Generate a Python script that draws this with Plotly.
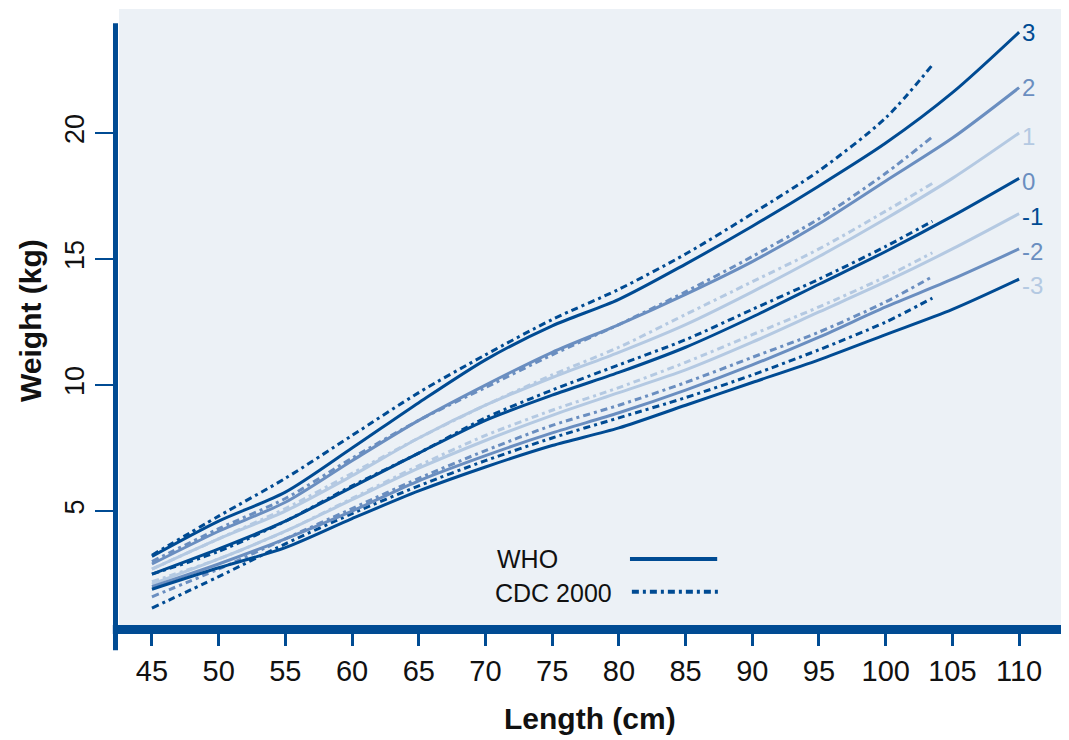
import plotly.graph_objects as go

# ---------------- data ----------------
who_length = [45, 50, 55, 60, 65, 70, 75, 80, 85, 90, 95, 100, 105, 110]
who_p3 = [3.2, 4.6, 5.75, 7.5, 9.3, 11.0, 12.35, 13.4, 14.8, 16.3, 17.9, 19.6, 21.6, 24.0]
who_p2 = [2.9, 4.2, 5.35, 7.0, 8.6, 10.0, 11.3, 12.4, 13.6, 14.9, 16.4, 18.1, 19.8, 21.8]
who_p1 = [2.7, 3.9, 5.0, 6.4, 7.9, 9.2, 10.3, 11.3, 12.4, 13.7, 15.1, 16.6, 18.2, 20.0]
who_0 = [2.5, 3.5, 4.6, 5.95, 7.3, 8.6, 9.6, 10.5, 11.5, 12.7, 14.0, 15.3, 16.7, 18.2]
who_m1 = [2.1, 3.1, 4.2, 5.45, 6.7, 7.8, 8.8, 9.7, 10.6, 11.7, 12.9, 14.1, 15.4, 16.8]
who_m2 = [2.0, 2.9, 3.9, 5.0, 6.2, 7.2, 8.1, 8.9, 9.8, 10.8, 11.9, 13.1, 14.2, 15.4]
who_m3 = [1.9, 2.75, 3.55, 4.7, 5.8, 6.75, 7.6, 8.3, 9.2, 10.1, 11.0, 12.0, 13.0, 14.2]

cdc_length = [45, 50, 55, 60, 65, 70, 75, 80, 85, 90, 95, 100, 103.5]
cdc_p3 = [3.25, 4.8, 6.3, 8.0, 9.7, 11.2, 12.6, 13.8, 15.2, 16.8, 18.5, 20.6, 22.7]
cdc_p2 = [3.0, 4.3, 5.5, 7.1, 8.6, 9.9, 11.2, 12.4, 13.7, 15.1, 16.6, 18.4, 19.85]
cdc_p1 = [2.7, 3.9, 5.1, 6.5, 7.9, 9.2, 10.4, 11.5, 12.8, 14.1, 15.4, 16.9, 18.0]
cdc_0 = [2.5, 3.4, 4.6, 6.0, 7.3, 8.7, 9.8, 10.8, 11.8, 13.0, 14.2, 15.5, 16.5]
cdc_m1 = [2.2, 3.1, 4.2, 5.5, 6.8, 8.0, 9.0, 9.9, 10.9, 12.0, 13.1, 14.3, 15.25]
cdc_m2 = [1.6, 2.7, 3.9, 5.1, 6.3, 7.4, 8.4, 9.2, 10.1, 11.1, 12.1, 13.3, 14.3]
cdc_m3 = [1.15, 2.4, 3.7, 4.9, 6.0, 7.0, 7.9, 8.7, 9.5, 10.4, 11.4, 12.5, 13.45]

z_labels = ["3", "2", "1", "0", "-1", "-2", "-3"]
x_ticks = [45, 50, 55, 60, 65, 70, 75, 80, 85, 90, 95, 100, 105, 110]
y_ticks = [5, 10, 15, 20]
legend_names = ["WHO", "CDC 2000"]
x_title = "Length (cm)"
y_title = "Weight (kg)"

# ---------------- style ----------------
DARK = "#004b93"
MED = "#6a8ec0"
LIGHT = "#b4c9e2"
BG = "#ecf1f6"
TXT = "#111111"
FONT = "Liberation Sans, Arial, sans-serif"
DASHDOT = "7px,4px,3px,4px"

line_colors = [DARK, MED, LIGHT, DARK, LIGHT, MED, DARK]
label_colors = [DARK, MED, LIGHT, MED, DARK, MED, LIGHT]
label_yshift = [0, 0, -3, -3, -3, -3, -6]

who_series = [who_p3, who_p2, who_p1, who_0, who_m1, who_m2, who_m3]
cdc_series = [cdc_p3, cdc_p2, cdc_p1, cdc_0, cdc_m1, cdc_m2, cdc_m3]

fig = go.Figure()

for name, ys, col in zip(z_labels, cdc_series, line_colors):
    fig.add_trace(go.Scatter(x=cdc_length, y=ys, mode="lines", name="CDC " + name,
                             line=dict(color=col, width=3, dash=DASHDOT, shape="spline", smoothing=0.8),
                             showlegend=False, hoverinfo="skip"))
for name, ys, col in zip(z_labels, who_series, line_colors):
    fig.add_trace(go.Scatter(x=who_length, y=ys, mode="lines", name="WHO " + name,
                             line=dict(color=col, width=3, shape="spline", smoothing=0.8),
                             showlegend=False, hoverinfo="skip"))

# end labels
for name, ys, col, dy in zip(z_labels, who_series, label_colors, label_yshift):
    fig.add_annotation(x=who_length[-1], y=ys[-1], text=name, showarrow=False,
                       xanchor="left", yanchor="middle", xshift=1, yshift=dy,
                       font=dict(family=FONT, size=24, color=col))

# legend (manual, text left of line)
fig.add_annotation(xref="paper", yref="paper", x=0.397, y=0.107, text=legend_names[0],
                   showarrow=False, xanchor="left", yanchor="middle",
                   font=dict(family=FONT, size=25, color=TXT))
fig.add_annotation(xref="paper", yref="paper", x=0.394, y=0.052, text=legend_names[1],
                   showarrow=False, xanchor="left", yanchor="middle",
                   font=dict(family=FONT, size=25, color=TXT))
fig.add_shape(type="line", xref="paper", yref="paper", x0=0.539, x1=0.631, y0=0.107, y1=0.107,
              line=dict(color=DARK, width=4))
fig.add_shape(type="line", xref="paper", yref="paper", x0=0.541, x1=0.632, y0=0.054, y1=0.054,
              line=dict(color=DARK, width=4, dash=DASHDOT))

# axis titles
fig.add_annotation(xref="paper", yref="paper", x=0.497, y=-0.151, text="<b>%s</b>" % x_title,
                   showarrow=False, xanchor="center", yanchor="middle",
                   font=dict(family=FONT, size=30, color=TXT))
fig.add_annotation(xref="paper", yref="paper", x=-0.094, y=0.495, text="<b>%s</b>" % y_title,
                   showarrow=False, xanchor="center", yanchor="middle", textangle=-90,
                   font=dict(family=FONT, size=30, color=TXT))

# thick axis lines
fig.add_shape(type="line", xref="paper", yref="paper", x0=-0.0065, x1=1.003, y0=-0.0073, y1=-0.0073,
              line=dict(color=DARK, width=9))
fig.add_shape(type="line", xref="paper", yref="paper", x0=-0.0037, x1=-0.0037, y0=0.977, y1=-0.041,
              line=dict(color=DARK, width=5))

# page has an 8px body margin, so the figure is sized/offset to compensate
fig.update_layout(
    width=1061, height=732,
    margin=dict(l=111, r=2, t=1, b=115),
    paper_bgcolor="white", plot_bgcolor=BG,
    showlegend=False,
    font=dict(family=FONT, color=TXT),
    xaxis=dict(range=[42.53, 113.59], tickvals=x_ticks, ticktext=[str(v) for v in x_ticks],
               ticks="outside", ticklen=20, tickwidth=3, tickcolor=DARK,
               showgrid=False, zeroline=False, showline=False, automargin=False,
               tickfont=dict(family=FONT, size=29, color=TXT)),
    yaxis=dict(range=[0.48, 24.92], tickvals=y_ticks, ticktext=[str(v) for v in y_ticks],
               ticks="outside", ticklen=23, tickwidth=2, tickcolor=DARK, tickangle=-90,
               showgrid=False, zeroline=False, showline=False, automargin=False,
               tickfont=dict(family=FONT, size=27, color=TXT)),
)

fig.write_html("out.html")
